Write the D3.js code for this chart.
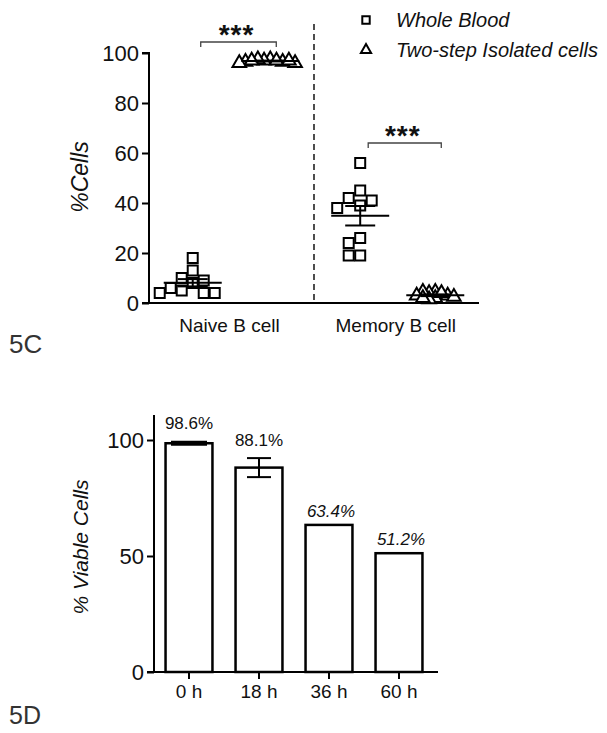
<!DOCTYPE html>
<html><head><meta charset="utf-8">
<script src="https://cdn.jsdelivr.net/npm/d3@7"></script>
<style>body{margin:0;background:#fff;} svg{display:block;font-family:"Liberation Sans",Arial,sans-serif;}</style>
</head><body>
<script>
// ---- Data: 5C ----
const groups = ["Naive B cell", "Memory B cell"];
const wholeNaive = [18, 13, 10, 9, 8, 6, 5, 4, 4, 4];
const isoNaive = [97.5, 97, 96.5, 97, 96, 97.5, 96.5, 97, 96, 97];
const wholeMemory = [56, 45, 42, 41, 39, 38, 26, 24, 19, 19];
const isoMemory = [4.5, 4, 4.5, 3, 2, 2.5, 3, 1.5, 2, 4];
const ticks5C = [0, 20, 40, 60, 80, 100];
const legendLabels = ["Whole Blood", "Two-step Isolated cells"];
// ---- Data: 5D ----
const times = ["0 h", "18 h", "36 h", "60 h"];
const viability = [98.6, 88.1, 63.4, 51.2];
const viabilityErr = [0.4, 4.1, 0, 0];
const viabilityLabels = ["98.6%", "88.1%", "63.4%", "51.2%"];
const ticks5D = [0, 50, 100];

const W = 607, H = 733;
const svg = d3.select("body").append("svg").attr("width", W).attr("height", H);

// ===== 5C =====
const y1 = d3.scaleLinear().domain([0, 100]).range([303, 53]);
const x1 = d3.scaleLinear().domain([0, 4]).range([149, 479]);
const slotPos = [0.53, 1.47, 2.56, 3.47];
const g1 = svg.append("g");

g1.append("g").attr("transform", "translate(149,0)")
  .call(d3.axisLeft(y1).tickValues(ticks5C).tickSize(7).tickPadding(3))
  .call(g => { g.select(".domain").attr("stroke-width", 2).attr("d", `M-7,${y1(100)}H0V${y1(0)}H0`); g.selectAll("line").attr("stroke-width", 2); g.selectAll("text").attr("font-size", 22).attr("fill", "#111"); });
g1.append("line").attr("x1", 142).attr("x2", 479).attr("y1", y1(0)).attr("y2", y1(0)).attr("stroke", "#000").attr("stroke-width", 2);

g1.append("line").attr("x1", x1(2)).attr("x2", x1(2)).attr("y1", 24).attr("y2", y1(0))
  .attr("stroke", "#222").attr("stroke-width", 1.6).attr("stroke-dasharray", "6,4");

g1.selectAll(".xl").data(groups).join("text")
  .attr("x", (d, i) => (x1(slotPos[i * 2]) + x1(slotPos[i * 2 + 1])) / 2 - 2)
  .attr("y", 332).attr("text-anchor", "middle").attr("font-size", 19).attr("fill", "#111").text(d => d);

g1.append("text").attr("transform", "translate(88,177) rotate(-90)").attr("text-anchor", "middle")
  .attr("font-size", 23).attr("font-style", "italic").attr("fill", "#111").text("%Cells");

function swarm(values, cx, sp) {
  const placed = [];
  const order = values.map((v, i) => i).sort((a, b) => values[b] - values[a]);
  const res = new Array(values.length);
  order.forEach(i => {
    const py = y1(values[i]);
    for (let k = 0; k < 40; k++) {
      const off = (k % 2 ? -1 : 1) * Math.ceil(k / 2) * sp;
      const px = cx + off;
      if (placed.every(p => Math.hypot(p[0] - px, p[1] - py) >= sp)) { placed.push([px, py]); res[i] = [px, py]; break; }
    }
  });
  return res;
}
function meanSem(v) { const m = d3.mean(v); const s = d3.deviation(v) / Math.sqrt(v.length); return [m, s]; }

const sq = d3.symbol().type(d3.symbolSquare).size(100);
const tri = d3.symbol().type(d3.symbolTriangle).size(80);
const sets = [[wholeNaive, 0, sq, 11], [isoNaive, 1, tri, 6.2], [wholeMemory, 2, sq, 11.5], [isoMemory, 3, tri, 6.2]];
sets.forEach(([vals, s, sym, sp]) => {
  const cx = x1(slotPos[s]);
  const pts = swarm(vals, cx, sp);
  g1.append("g").selectAll("path").data(pts).join("path")
    .attr("transform", d => `translate(${d[0]},${d[1]})`).attr("d", sym)
    .attr("fill", "#fff").attr("stroke", "#000").attr("stroke-width", 2);
  const [m, se] = meanSem(vals);
  const gm = g1.append("g").attr("stroke", "#000").attr("stroke-width", 2);
  gm.append("line").attr("x1", cx - 29).attr("x2", cx + 29).attr("y1", y1(m)).attr("y2", y1(m));
  gm.append("line").attr("x1", cx).attr("x2", cx).attr("y1", y1(m - se)).attr("y2", y1(m + se));
  gm.append("line").attr("x1", cx - 15).attr("x2", cx + 15).attr("y1", y1(m - se)).attr("y2", y1(m - se));
  gm.append("line").attr("x1", cx - 15).attr("x2", cx + 15).attr("y1", y1(m + se)).attr("y2", y1(m + se));
});

[[0, 42], [2, 143]].forEach(([s, by]) => {
  const xa = x1(slotPos[s]) + 8, xb = x1(slotPos[s + 1]) + 6;
  g1.append("path").attr("d", `M${xa},${by + 5}V${by}H${xb}V${by + 5}`).attr("fill", "none").attr("stroke", "#444").attr("stroke-width", 1.3);
  g1.append("text").attr("x", (xa + xb) / 2 - 2).attr("y", by + 2).attr("text-anchor", "middle").attr("font-size", 28).attr("font-weight", "bold").attr("letter-spacing", 1).attr("fill", "#111").text("***");
});

legendLabels.forEach((t, i) => {
  const ly = 20 + i * 30;
  g1.append("path").attr("transform", `translate(366,${ly})`).attr("d", i ? d3.symbol().type(d3.symbolTriangle).size(45) : d3.symbol().type(d3.symbolSquare).size(55))
    .attr("fill", "#fff").attr("stroke", "#000").attr("stroke-width", 2);
  g1.append("text").attr("x", 396).attr("y", ly + 7).attr("font-size", 20).attr("font-style", "italic").attr("fill", "#111").text(t);
});

svg.append("text").attr("x", 9).attr("y", 353).attr("font-size", 26).attr("fill", "#333").text("5C");
svg.append("text").attr("x", 9).attr("y", 724).attr("font-size", 25).attr("fill", "#333").text("5D");

// ===== 5D =====
const y2 = d3.scaleLinear().domain([0, 100]).range([672, 440]);
const x2 = d3.scaleBand().domain(times).range([154, 434]).paddingInner(0.33).paddingOuter(0.165);
const g2 = svg.append("g");
g2.selectAll("rect").data(viability).join("rect")
  .attr("x", (d, i) => x2(times[i])).attr("width", x2.bandwidth())
  .attr("y", d => y2(d)).attr("height", d => y2(0) - y2(d))
  .attr("fill", "#fff").attr("stroke", "#000").attr("stroke-width", 2.5);
viability.forEach((v, i) => {
  const e = viabilityErr[i]; if (!e) return;
  const cx = x2(times[i]) + x2.bandwidth() / 2;
  const w = i === 0 ? 18 : 12;
  const ge = g2.append("g").attr("stroke", "#000").attr("stroke-width", i === 0 ? 3 : 2);
  ge.append("line").attr("x1", cx).attr("x2", cx).attr("y1", y2(v - e)).attr("y2", y2(v + e));
  ge.append("line").attr("x1", cx - w).attr("x2", cx + w).attr("y1", y2(v + e)).attr("y2", y2(v + e));
  ge.append("line").attr("x1", cx - w).attr("x2", cx + w).attr("y1", y2(v - e)).attr("y2", y2(v - e));
});
const labOff = [13, 12, 8, 8];
g2.selectAll(".vl").data(viabilityLabels).join("text")
  .attr("x", (d, i) => x2(times[i]) + x2.bandwidth() / 2 + (i > 1 ? 2 : 0))
  .attr("y", (d, i) => y2(viability[i] + viabilityErr[i]) - labOff[i])
  .attr("text-anchor", "middle").attr("font-size", 17).attr("fill", "#111")
  .attr("font-style", (d, i) => i > 1 ? "italic" : "normal").text(d => d);

g2.append("g").attr("transform", "translate(154,0)")
  .call(d3.axisLeft(y2).tickValues(ticks5D).tickSize(7).tickPadding(3))
  .call(g => { g.select(".domain").attr("stroke-width", 2).attr("d", `M0,415V${y2(0)}`); g.selectAll("line").attr("stroke-width", 2); g.selectAll("text").attr("font-size", 22).attr("fill", "#111"); });
g2.append("g").attr("transform", `translate(0,${y2(0)})`)
  .call(d3.axisBottom(x2).tickSize(7).tickPadding(4))
  .call(g => { g.select(".domain").attr("stroke-width", 2).attr("d", "M147,0H438"); g.selectAll("line").attr("stroke-width", 2); g.selectAll("text").attr("font-size", 19).attr("fill", "#111").attr("dy", "0.8em"); });
g2.append("text").attr("transform", "translate(88,547) rotate(-90)").attr("text-anchor", "middle")
  .attr("font-size", 21).attr("font-style", "italic").attr("fill", "#111").text("% Viable Cells");
</script>
</body></html>
